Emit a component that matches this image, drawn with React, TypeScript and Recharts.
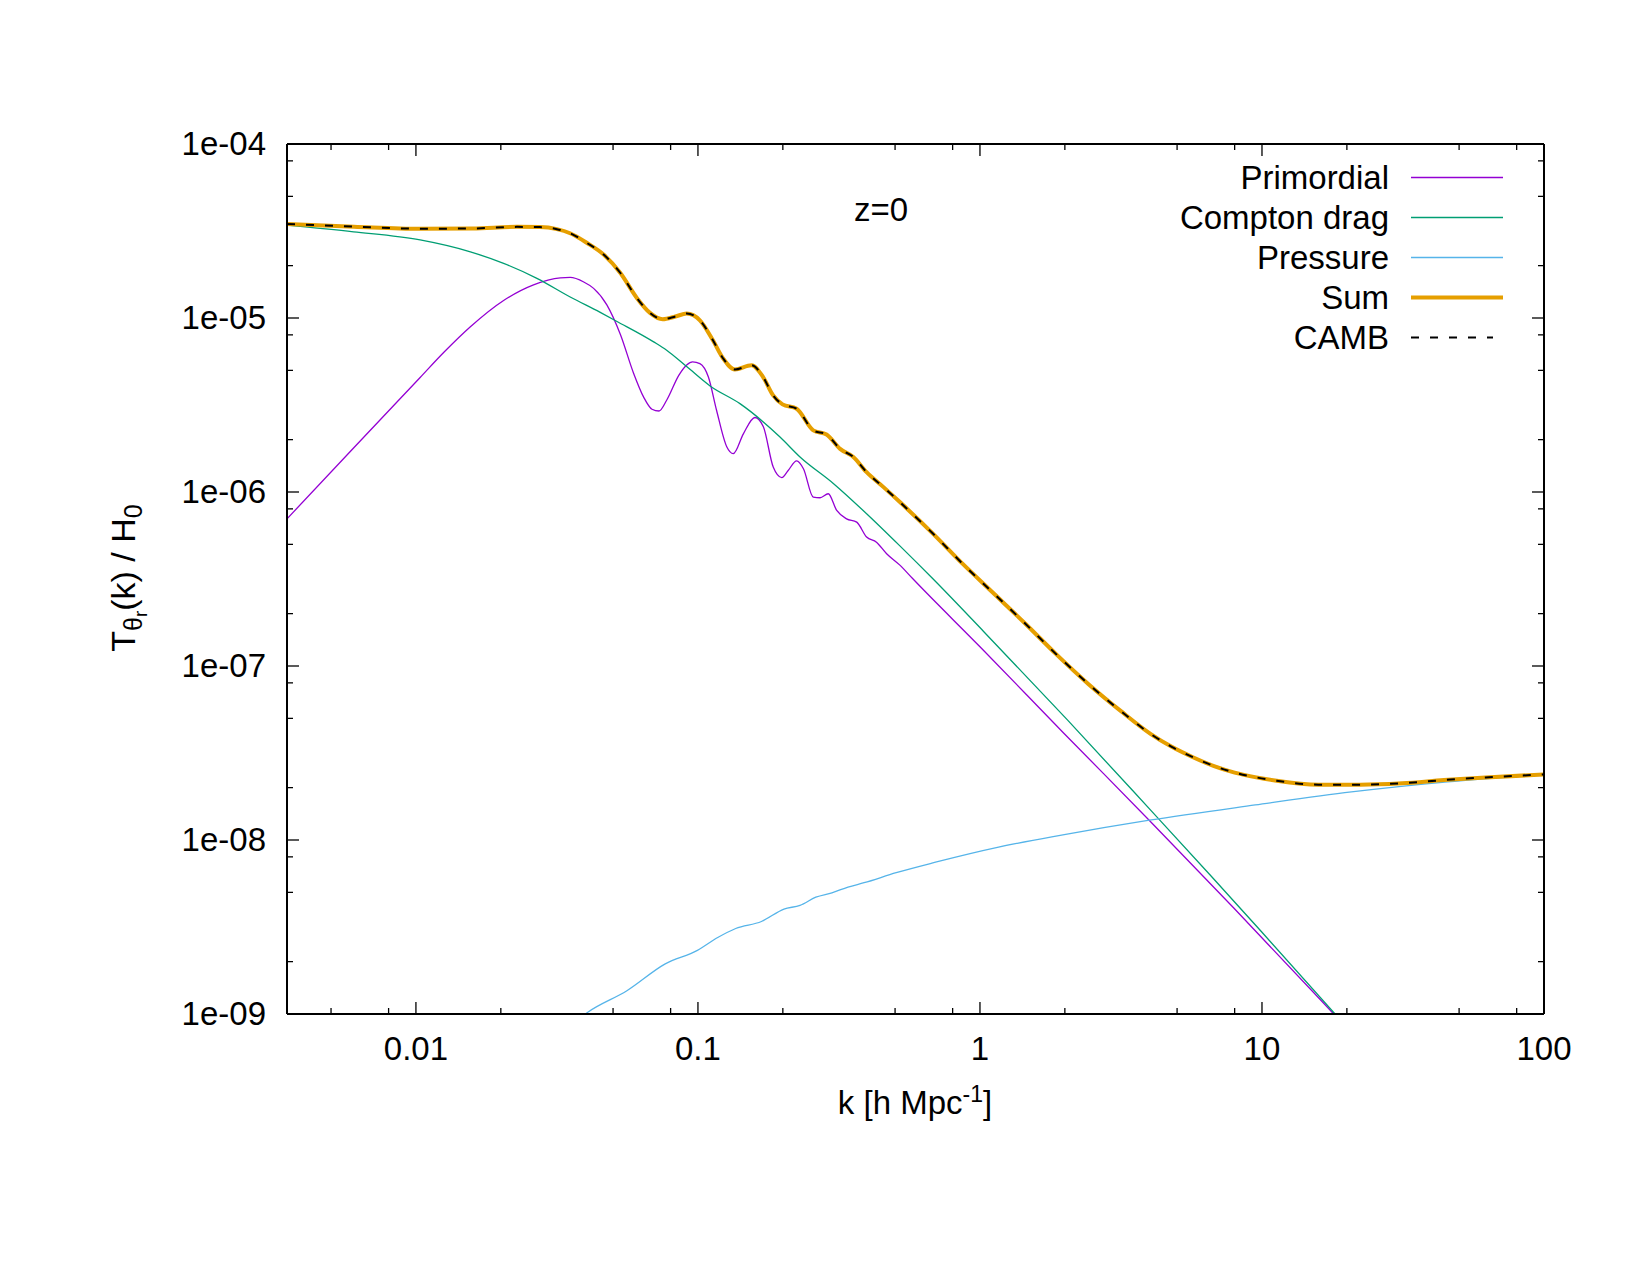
import { LineChart, Line, XAxis, YAxis, Legend } from 'recharts';

// k grid and transfer function values for each contribution (h/Mpc, T/H0)
const K_PRIMORDIAL = [
  0.00349, 0.00601, 0.01035, 0.01259, 0.0156, 0.02046, 0.02612, 0.03251, 0.03524, 0.03936, 0.04266,
  0.04753, 0.05309, 0.05916, 0.06412, 0.06871, 0.07278, 0.07762, 0.08551, 0.0912, 0.09572,
  0.1016, 0.1089, 0.1164, 0.1265, 0.1334, 0.1449, 0.1592, 0.1706, 0.1849, 0.1982,
  0.2089, 0.2239, 0.2366, 0.2564, 0.271, 0.2897, 0.3105, 0.3365, 0.3656, 0.3963,
  0.4295, 0.4667, 0.52, 0.5781, 1.0, 1.995, 3.981, 7.943, 18.45, 25.12,
];
const T_PRIMORDIAL = [
  7.01e-7, 1.79e-6, 4.55e-6, 6.37e-6, 8.9e-6, 1.26e-5, 1.55e-5, 1.7e-5, 1.71e-5, 1.61e-5, 1.48e-5,
  1.19e-5, 8.04e-6, 4.8e-6, 3.52e-6, 2.99e-6, 2.92e-6, 3.39e-6, 4.68e-6, 5.37e-6, 5.6e-6,
  5.47e-6, 4.58e-6, 2.95e-6, 1.82e-6, 1.66e-6, 2.16e-6, 2.68e-6, 2.37e-6, 1.39e-6, 1.21e-6,
  1.33e-6, 1.51e-6, 1.36e-6, 9.35e-7, 9.27e-7, 9.77e-7, 7.83e-7, 7.01e-7, 6.71e-7, 5.51e-7,
  5.15e-7, 4.42e-7, 3.8e-7, 3.17e-7, 1.29e-7, 4.07e-8, 1.3e-8, 4.07e-9, 9.55e-10, 5.6e-10,
];

const K_COMPTON = [
  0.00349, 0.00601, 0.01035, 0.0156, 0.02046, 0.02685, 0.03524, 0.04487, 0.05164, 0.06966,
  0.07745, 0.09141, 0.1104, 0.1409, 0.1954, 0.2301, 0.302, 0.3963, 0.52, 0.6823,
  1.03, 2.042, 4.036, 6.622, 10, 18.37, 25.12,
];
const T_COMPTON = [
  3.42e-5, 3.13e-5, 2.81e-5, 2.4e-5, 2.06e-5, 1.69e-5, 1.32e-5, 1.08e-5, 9.55e-6, 7.29e-6,
  6.53e-6, 5.24e-6, 4.07e-6, 3.22e-6, 2.07e-6, 1.59e-6, 1.12e-6, 7.5e-7, 4.9e-7, 3.16e-7,
  1.58e-7, 4.9e-8, 1.48e-8, 6.17e-9, 2.95e-9, 9.8e-10, 5.5e-10,
];

const K_PRESSURE = [
  0.03631, 0.04093, 0.05598, 0.07656, 0.09954, 0.1175, 0.1361, 0.1679, 0.2018, 0.2301,
  0.2618, 0.2985, 0.3404, 0.3882, 0.5047, 0.6902, 1.164, 1.968, 3.99, 9.462,
  20.75, 45.5, 100,
];
const T_PRESSURE = [
  8.9e-10, 1.03e-9, 1.36e-9, 1.94e-9, 2.32e-9, 2.75e-9, 3.1e-9, 3.4e-9, 4.01e-9, 4.21e-9,
  4.69e-9, 4.97e-9, 5.36e-9, 5.68e-9, 6.49e-9, 7.43e-9, 9.1e-9, 1.07e-8, 1.3e-8, 1.59e-8,
  1.89e-8, 2.16e-8, 2.38e-8,
];

const K_SUM = [
  0.00349, 0.00603, 0.01033, 0.01585, 0.0228, 0.0275, 0.0316, 0.0352, 0.0404, 0.0465,
  0.053, 0.0608, 0.0676, 0.075, 0.0832, 0.0912, 0.1016, 0.113, 0.1227, 0.1352,
  0.1549, 0.1702, 0.1845, 0.1995, 0.2239, 0.2564, 0.2858, 0.3192, 0.3556, 0.3963,
  0.4539, 0.52, 0.6823, 0.869, 1.122, 1.449, 1.862, 2.421, 3.162, 4.036,
  4.786, 5.689, 6.761, 7.998, 9.55, 11.27, 15.85, 22.28, 31.41, 44.16,
  62.09, 100,
];
const T_SUM = [
  3.47e-5, 3.35e-5, 3.26e-5, 3.27e-5, 3.34e-5, 3.33e-5, 3.24e-5, 3.07e-5, 2.7e-5, 2.3e-5,
  1.82e-5, 1.3e-5, 1.07e-5, 9.84e-6, 1.02e-5, 1.06e-5, 9.7e-6, 7.45e-6, 5.87e-6, 5.06e-6,
  5.35e-6, 4.58e-6, 3.6e-6, 3.19e-6, 3.01e-6, 2.26e-6, 2.14e-6, 1.77e-6, 1.59e-6, 1.3e-6,
  1.07e-6, 8.75e-7, 5.75e-7, 3.86e-7, 2.6e-7, 1.75e-7, 1.17e-7, 7.89e-8, 5.5e-8, 4.06e-8,
  3.43e-8, 2.99e-8, 2.66e-8, 2.44e-8, 2.29e-8, 2.19e-8, 2.08e-8, 2.08e-8, 2.12e-8, 2.21e-8,
  2.29e-8, 2.38e-8,
];

// CAMB reference overlays the summed result
const K_CAMB = K_SUM;
const T_CAMB = T_SUM;

const X_TICKS = [0.005, 0.008, 0.01, 0.02, 0.05, 0.08, 0.1, 0.2, 0.5, 0.8, 1, 2, 5, 8, 10, 20, 50, 80, 100];
const Y_TICKS = [
  1e-9, 2e-9, 5e-9, 8e-9, 1e-8, 2e-8, 5e-8, 8e-8, 1e-7, 2e-7, 5e-7, 8e-7,
  1e-6, 2e-6, 5e-6, 8e-6, 1e-5, 2e-5, 5e-5, 8e-5, 1e-4,
];
const KEY_ORDER = ['Primordial', 'Compton drag', 'Pressure', 'Sum', 'CAMB'];

const FONT = '"Liberation Sans", Arial, Helvetica, sans-serif';
const FS = 33;

const toPoints = (k: number[], t: number[]) => k.map((kk, i) => ({ k: kk, t: t[i] }));

const isDecade = (v: number) => {
  const l = Math.log10(v);
  return Math.abs(l - Math.round(l)) < 1e-6;
};

const fmtExp = (v: number) => {
  const e = Math.round(Math.log10(v));
  return `1e${e < 0 ? '-' : '+'}${String(Math.abs(e)).padStart(2, '0')}`;
};

function XTick(props: any) {
  const { x, y, payload, side } = props;
  const major = isDecade(payload.value);
  const len = major ? 12 : 6;
  const dir = side === 'bottom' ? -1 : 1;
  return (
    <g>
      <line x1={x} y1={y} x2={x} y2={y + dir * len} stroke="#000" strokeWidth={1.3} />
      {side === 'bottom' && major && (
        <text x={x} y={y + 46} textAnchor="middle" fontFamily={FONT} fontSize={FS} fill="#000">
          {String(payload.value)}
        </text>
      )}
    </g>
  );
}

function YTick(props: any) {
  const { x, y, payload, side } = props;
  const major = isDecade(payload.value);
  const len = major ? 12 : 6;
  const dir = side === 'left' ? 1 : -1;
  return (
    <g>
      <line x1={x} y1={y} x2={x + dir * len} y2={y} stroke="#000" strokeWidth={1.3} />
      {side === 'left' && major && (
        <text x={x - 21} y={y + 11} textAnchor="end" fontFamily={FONT} fontSize={FS} fill="#000">
          {fmtExp(payload.value)}
        </text>
      )}
    </g>
  );
}

function KeyBox(props: any) {
  const items = [...(props.payload || [])].sort(
    (a: any, b: any) => KEY_ORDER.indexOf(a.value) - KEY_ORDER.indexOf(b.value),
  );
  return (
    <svg width={380} height={220} style={{ display: 'block' }}>
      {items.map((it: any, i: number) => {
        const cy = 27.5 + 40 * i;
        const dashed = it.payload?.strokeDasharray;
        return (
          <g key={it.value}>
            <text x={239} y={cy + 11} textAnchor="end" fontFamily={FONT} fontSize={FS} fill="#000">
              {it.value}
            </text>
            <line
              x1={261}
              x2={dashed ? 343 : 353}
              y1={cy}
              y2={cy}
              stroke={it.color}
              strokeWidth={it.payload?.strokeWidth ?? 1.3}
              strokeDasharray={dashed}
            />
          </g>
        );
      })}
    </svg>
  );
}

const axisLine = { stroke: '#000', strokeWidth: 2 };

export default function App() {
  return (
    <div style={{ position: 'absolute', left: 0, top: 0, width: 1650, height: 1275, background: '#fff' }}>
      <LineChart
        width={1650}
        height={1275}
        margin={{ top: 143, right: 105, bottom: 260, left: 286 }}
      >
        <XAxis
          xAxisId="b"
          dataKey="k"
          type="number"
          scale="log"
          domain={[0.00349, 100]}
          allowDataOverflow
          ticks={X_TICKS}
          interval={0}
          height={1}
          tickSize={0}
          tickMargin={0}
          tickLine={false}
          axisLine={axisLine}
          tick={(p: any) => <XTick {...p} side="bottom" />}
        />
        <XAxis
          xAxisId="t"
          orientation="top"
          dataKey="k"
          type="number"
          scale="log"
          domain={[0.00349, 100]}
          allowDataOverflow
          ticks={X_TICKS}
          interval={0}
          height={1}
          tickSize={0}
          tickMargin={0}
          tickLine={false}
          axisLine={axisLine}
          tick={(p: any) => <XTick {...p} side="top" />}
        />
        <YAxis
          yAxisId="l"
          type="number"
          scale="log"
          domain={[1e-9, 1e-4]}
          allowDataOverflow
          ticks={Y_TICKS}
          interval={0}
          width={1}
          tickSize={0}
          tickMargin={0}
          tickLine={false}
          axisLine={axisLine}
          tick={(p: any) => <YTick {...p} side="left" />}
        />
        <YAxis
          yAxisId="r"
          orientation="right"
          type="number"
          scale="log"
          domain={[1e-9, 1e-4]}
          allowDataOverflow
          ticks={Y_TICKS}
          interval={0}
          width={1}
          tickSize={0}
          tickMargin={0}
          tickLine={false}
          axisLine={axisLine}
          tick={(p: any) => <YTick {...p} side="right" />}
        />

        <Line
          xAxisId="b"
          yAxisId="l"
          data={toPoints(K_PRIMORDIAL, T_PRIMORDIAL)}
          dataKey="t"
          name="Primordial"
          type="monotone"
          stroke="#9400d3"
          strokeWidth={1.3}
          dot={false}
          activeDot={false}
          isAnimationActive={false}
        />
        <Line
          xAxisId="b"
          yAxisId="l"
          data={toPoints(K_COMPTON, T_COMPTON)}
          dataKey="t"
          name="Compton drag"
          type="monotone"
          stroke="#009e73"
          strokeWidth={1.3}
          dot={false}
          activeDot={false}
          isAnimationActive={false}
        />
        <Line
          xAxisId="b"
          yAxisId="l"
          data={toPoints(K_PRESSURE, T_PRESSURE)}
          dataKey="t"
          name="Pressure"
          type="monotone"
          stroke="#56b4e9"
          strokeWidth={1.3}
          dot={false}
          activeDot={false}
          isAnimationActive={false}
        />
        <Line
          xAxisId="b"
          yAxisId="l"
          data={toPoints(K_SUM, T_SUM)}
          dataKey="t"
          name="Sum"
          type="monotone"
          stroke="#e69f00"
          strokeWidth={4}
          dot={false}
          activeDot={false}
          isAnimationActive={false}
        />
        <Line
          xAxisId="b"
          yAxisId="l"
          data={toPoints(K_CAMB, T_CAMB)}
          dataKey="t"
          name="CAMB"
          type="monotone"
          stroke="#000"
          strokeWidth={2}
          strokeDasharray="8 11"
          dot={false}
          activeDot={false}
          isAnimationActive={false}
        />

        <Legend
          layout="vertical"
          align="center"
          verticalAlign="middle"
          wrapperStyle={{ left: 1150, top: 150, width: 380, height: 220 }}
          content={<KeyBox />}
        />

        <text x={881} y={221} textAnchor="middle" fontFamily={FONT} fontSize={FS} fill="#000">
          z=0
        </text>
        <text x={915} y={1114} textAnchor="middle" fontFamily={FONT} fontSize={FS} fill="#000">
          k [h Mpc
          <tspan dy={-12} fontSize={23}>-1</tspan>
          <tspan dy={12}>]</tspan>
        </text>
        <text
          transform="translate(135,578) rotate(-90)"
          textAnchor="middle"
          fontFamily={FONT}
          fontSize={34}
          fill="#000"
        >
          T
          <tspan dy={7} fontSize={25}>θ</tspan>
          <tspan dy={5} fontSize={19}>r</tspan>
          <tspan dy={-12} fontSize={34}>(k) / H</tspan>
          <tspan dy={7} fontSize={25}>0</tspan>
        </text>
      </LineChart>
    </div>
  );
}
